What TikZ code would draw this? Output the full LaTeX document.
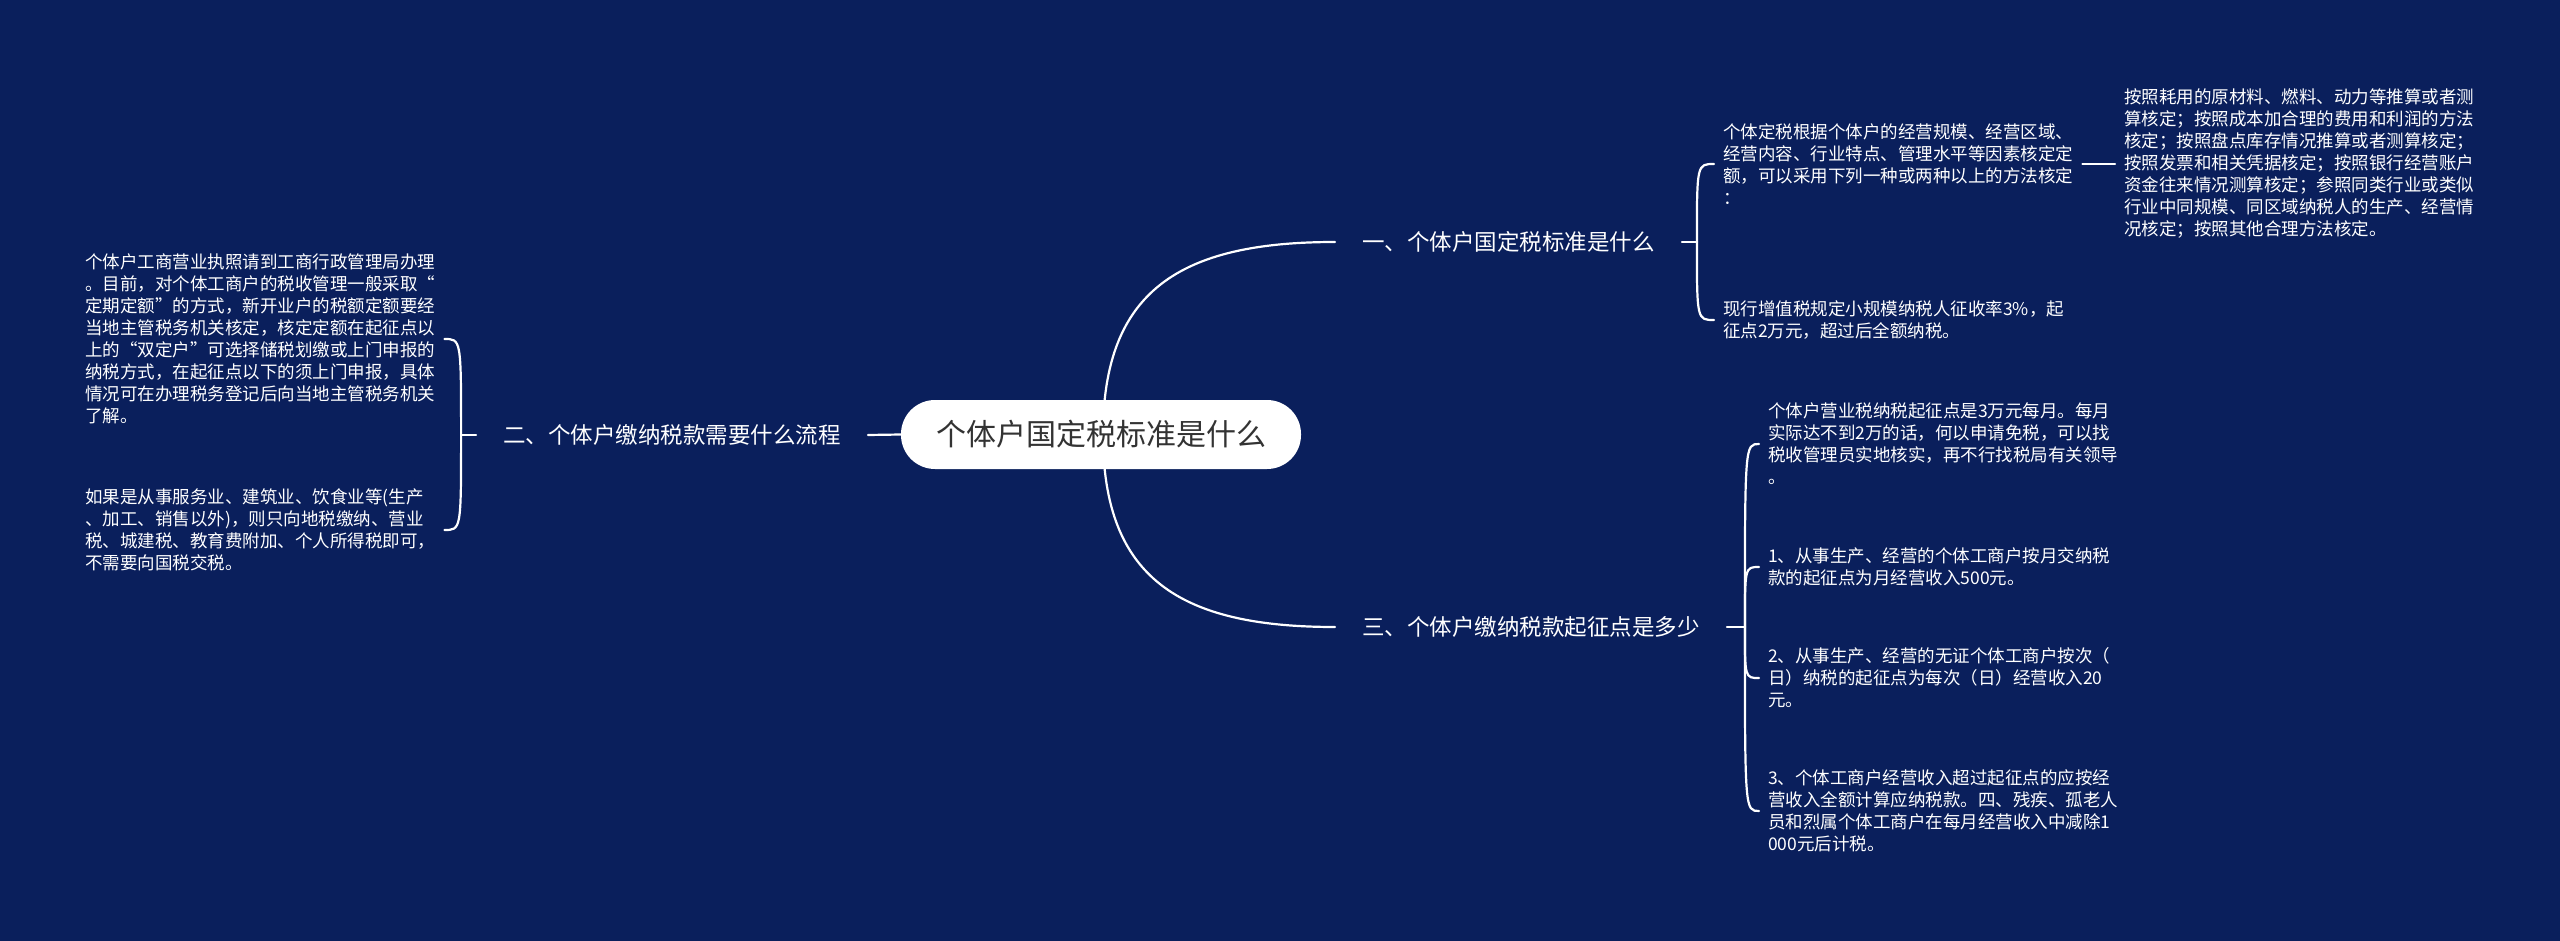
\documentclass[tikz,border=0pt]{standalone}
\usepackage{fontspec}
\setmainfont{Noto Sans CJK SC}
\usetikzlibrary{calc}
\definecolor{bgc}{RGB}{10,31,92}
\definecolor{rootc}{RGB}{51,51,51}
\pgfdeclarelayer{bglayer}
\pgfdeclarelayer{edgelayer}
\pgfsetlayers{bglayer,edgelayer,main}
\tikzset{
  edge/.style={draw=white, line width=2.2pt, line cap=round},
  rootnode/.style={fill=white, rounded corners=34pt, minimum width=400pt, minimum height=69pt, text=rootc, font=\fontsize{30}{36}\selectfont, inner sep=0pt},
  branch/.style={text=white, font=\fontsize{22.5}{27}\selectfont, inner xsep=27pt, inner ysep=4pt},
  leaf/.style={text=white, font=\fontsize{17.5}{22}\selectfont, align=left, inner xsep=9pt, inner ysep=3pt},
}
\begin{document}
\begin{tikzpicture}[x=1pt,y=-1pt]
\begin{pgfonlayer}{bglayer}
\fill[bgc] (0,0) rectangle (2560,941);
\end{pgfonlayer}
\useasboundingbox (0,0) rectangle (2560,941);

% root and branches
\node[rootnode] (root) at (1101,434.5) {个体户国定税标准是什么};
\node[branch, anchor=west] (b1) at (1335,242) {一、个体户国定税标准是什么};
\node[branch, anchor=west] (b3) at (1335,627) {三、个体户缴纳税款起征点是多少};
\node[branch, anchor=east] (b2) at (868,435) {二、个体户缴纳税款需要什么流程};

% leaves, branch 1
\node[leaf, anchor=west] (r1a) at (1714,164) {个体定税根据个体户的经营规模、经营区域、\\经营内容、行业特点、管理水平等因素核定定\\额，可以采用下列一种或两种以上的方法核定\\：};
\node[leaf, anchor=west] (r1b) at (1714,320) {现行增值税规定小规模纳税人征收率3\%，起\\征点2万元，超过后全额纳税。};
\node[leaf, anchor=west] (r1c) at (2115,164) {按照耗用的原材料、燃料、动力等推算或者测\\算核定；按照成本加合理的费用和利润的方法\\核定；按照盘点库存情况推算或者测算核定；\\按照发票和相关凭据核定；按照银行经营账户\\资金往来情况测算核定；参照同类行业或类似\\行业中同规模、同区域纳税人的生产、经营情\\况核定；按照其他合理方法核定。};

% leaves, branch 3
\node[leaf, anchor=west] (r3a) at (1759,444) {个体户营业税纳税起征点是3万元每月。每月\\实际达不到2万的话，何以申请免税，可以找\\税收管理员实地核实，再不行找税局有关领导\\。};
\node[leaf, anchor=west] (r3b) at (1759,567) {1、从事生产、经营的个体工商户按月交纳税\\款的起征点为月经营收入500元。};
\node[leaf, anchor=west] (r3c) at (1759,678) {2、从事生产、经营的无证个体工商户按次（\\日）纳税的起征点为每次（日）经营收入20\\元。};
\node[leaf, anchor=west] (r3d) at (1759,811) {3、个体工商户经营收入超过起征点的应按经\\营收入全额计算应纳税款。四、残疾、孤老人\\员和烈属个体工商户在每月经营收入中减除1\\000元后计税。};

% leaves, branch 2
\node[leaf, anchor=west, text width=350pt] (l1) at (76,339) {个体户工商营业执照请到工商行政管理局办理\\。目前，对个体工商户的税收管理一般采取“\\定期定额”的方式，新开业户的税额定额要经\\当地主管税务机关核定，核定定额在起征点以\\上的“双定户”可选择储税划缴或上门申报的\\纳税方式，在起征点以下的须上门申报，具体\\情况可在办理税务登记后向当地主管税务机关\\了解。};
\node[leaf, anchor=west, text width=350pt] (l2) at (76,530) {如果是从事服务业、建筑业、饮食业等(生产\\、加工、销售以外)，则只向地税缴纳、营业\\税、城建税、教育费附加、个人所得税即可，\\不需要向国税交税。};

\coordinate (rs) at ([xshift=2pt]root.center);
\coordinate (p1) at ([xshift=15pt]b1.east);
\coordinate (p3) at ([xshift=18pt]b3.east);
\coordinate (p2) at ([xshift=-15pt]b2.west);

\begin{pgfonlayer}{edgelayer}
% root to branches
\draw[edge] (rs) .. controls ($(rs)+(0,-144)$) and ($(b1.west)+(-155,0)$) .. (b1.west);
\draw[edge] (rs) .. controls ($(rs)+(0,144)$) and ($(b3.west)+(-155,0)$) .. (b3.west);
\draw[edge] (root.west) -- (b2.east);
% stubs
\draw[edge] (b1.east) -- (p1);
\draw[edge] (b3.east) -- (p3);
\draw[edge] (b2.west) -- (p2);
% branch 1 brackets
\draw[edge] (p1) .. controls (p1 |- r1a.west) and (p1 |- r1a.west) .. (r1a.west);
\draw[edge] (p1) .. controls (p1 |- r1b.west) and (p1 |- r1b.west) .. (r1b.west);
\draw[edge] (r1a.east) -- (r1c.west);
% branch 3 brackets
\draw[edge] (p3) .. controls (p3 |- r3a.west) and (p3 |- r3a.west) .. (r3a.west);
\draw[edge] (p3) .. controls (p3 |- r3b.west) and (p3 |- r3b.west) .. (r3b.west);
\draw[edge] (p3) .. controls (p3 |- r3c.west) and (p3 |- r3c.west) .. (r3c.west);
\draw[edge] (p3) .. controls (p3 |- r3d.west) and (p3 |- r3d.west) .. (r3d.west);
% branch 2 brackets
\draw[edge] (p2) .. controls (p2 |- l1.east) and (p2 |- l1.east) .. (l1.east);
\draw[edge] (p2) .. controls (p2 |- l2.east) and (p2 |- l2.east) .. (l2.east);
\end{pgfonlayer}
\end{tikzpicture}
\end{document}
